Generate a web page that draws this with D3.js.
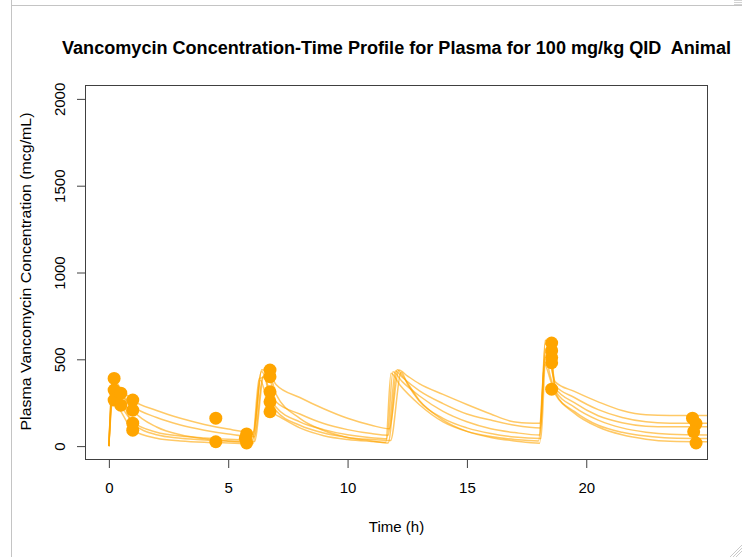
<!DOCTYPE html>
<html>
<head>
<meta charset="utf-8">
<script src="https://cdn.jsdelivr.net/npm/d3@7"></script>
<style>
  body { margin: 0; background: #fff; }
  svg { display: block; }
  text { font-family: "Liberation Sans", Arial, Helvetica, sans-serif; fill: #000; }
</style>
</head>
<body>
<svg id="chart" width="742" height="557"></svg>
<script>
// ---- Data: individual predicted profiles (time h, concentration mcg/mL) ----
const id1Time = [0, 0.17, 0.5, 1, 2, 3, 4, 5, 6.05, 6.4, 6.75, 7, 8, 9, 10, 11, 11.75, 12.15, 12.5, 13, 14, 15, 16, 16.8, 17.5, 18.05, 18.3, 18.5, 18.7, 19.5, 20.5, 21.5, 22.5, 23.5, 25.2];
const id1Conc = [0, 390, 330, 265, 205, 160, 125, 98, 80, 440, 415, 355, 280, 215, 160, 120, 100, 438, 405, 360, 298, 240, 185, 145, 133, 131, 540, 470, 370, 315, 255, 205, 180, 176, 176];

const id2Time = [0, 0.17, 0.5, 1, 2, 3, 4, 5, 6.1, 6.45, 6.75, 7, 8, 9, 10, 11, 11.7, 12.0, 12.3, 13, 14, 15, 16, 17, 18.08, 18.28, 18.5, 18.7, 19.5, 20.5, 21.5, 22.5, 23.5, 25.2];
const id2Conc = [0, 345, 300, 230, 165, 122, 92, 70, 54, 400, 380, 255, 185, 130, 95, 72, 63, 432, 395, 320, 245, 185, 150, 120, 104, 590, 540, 350, 280, 210, 165, 140, 132, 131];

const id3Time = [0, 0.17, 0.5, 1, 2, 3, 4, 5, 6.0, 6.4, 6.75, 7, 8, 9, 10, 11, 11.65, 11.9, 12.3, 13, 14, 15, 16, 17, 18.05, 18.3, 18.5, 18.7, 19.5, 20.5, 21.5, 22.5, 23.5, 25.2];
const id3Conc = [0, 323, 236, 140, 80, 58, 47, 40, 35, 430, 313, 225, 140, 95, 65, 48, 42, 428, 370, 290, 200, 140, 100, 78, 64, 560, 496, 335, 250, 175, 135, 115, 111, 111];

const id4Time = [0, 0.17, 0.5, 1, 2, 3, 4, 5, 6.1, 6.5, 6.75, 7, 8, 9, 10, 11, 11.8, 12.25, 12.5, 13, 14, 15, 16, 17, 18.1, 18.3, 18.5, 18.7, 19.5, 20.5, 21.5, 22.5, 23.5, 25.2];
const id4Conc = [0, 300, 270, 132, 65, 45, 35, 30, 27, 410, 255, 205, 120, 75, 50, 38, 32, 425, 360, 260, 160, 105, 72, 52, 44, 500, 400, 320, 225, 150, 105, 80, 68, 64];

const id5Time = [0, 0.17, 0.5, 1, 2, 3, 4, 5, 6.05, 6.35, 6.75, 7, 8, 9, 10, 11, 11.6, 11.82, 12.2, 13, 14, 15, 16, 17, 18.0, 18.25, 18.5, 18.7, 19.5, 20.5, 21.5, 22.5, 23.5, 25.2];
const id5Conc = [0, 265, 200, 92, 45, 30, 22, 18, 15, 380, 198, 180, 105, 60, 38, 27, 22, 420, 350, 240, 140, 85, 55, 38, 30, 470, 380, 300, 200, 120, 80, 58, 47, 44];

const id6Time = [0, 0.17, 0.5, 1, 2, 3, 4, 5, 6.0, 6.3, 6.75, 7, 8, 9, 10, 11, 11.7, 12.08, 12.35, 13, 14, 15, 16, 17, 18.05, 18.28, 18.5, 18.7, 19.5, 20.5, 21.5, 22.5, 23.5, 25.2];
const id6Conc = [0, 380, 305, 207, 110, 65, 42, 28, 20, 390, 400, 300, 160, 90, 50, 30, 18, 440, 395, 265, 150, 85, 50, 30, 17, 610, 594, 310, 190, 110, 65, 40, 28, 25];

// ---- Data: observed concentrations ----
const obsTime = [0.22, 0.22, 0.22, 0.5, 0.5, 1.0, 1.0, 1.0, 1.0, 4.48, 4.48, 5.72, 5.77, 5.77, 6.75, 6.75, 6.75, 6.75, 6.75, 18.55, 18.55, 18.55, 18.55, 18.55, 24.45, 24.6, 24.5, 24.6];
const obsConc = [390, 323, 265, 305, 236, 265, 207, 132, 92, 161, 25, 45, 70, 18, 438, 400, 313, 255, 198, 594, 550, 510, 480, 328, 161, 130, 83, 18];

// ---- Axis ticks and labels ----
const xTicks = [0, 5, 10, 15, 20];
const yTicks = [0, 500, 1000, 1500, 2000];
const titleText = "Vancomycin Concentration-Time Profile for Plasma for 100 mg/kg QID  Animal";
const xLabel = "Time (h)";
const yLabel = "Plasma Vancomycin Concentration (mcg/mL)";

const profiles = [
  [id1Time, id1Conc], [id2Time, id2Conc], [id3Time, id3Conc],
  [id4Time, id4Conc], [id5Time, id5Conc], [id6Time, id6Conc]
].map(([t, c]) => t.map((d, i) => [d, c[i]]));
const observed = obsTime.map((t, i) => [t, obsConc[i]]);

// ---- Layout ----
const svg = d3.select("#chart");
const plot = { left: 85, right: 708, top: 85, bottom: 460 };
const orange = "#FFA500";

const x = d3.scaleLinear().domain([-1.0, 25.1]).range([plot.left, plot.right]);
const y = d3.scaleLinear().domain([-80, 2080]).range([plot.bottom, plot.top]);

// viewer frame
svg.append("line").attr("x1", 11.5).attr("x2", 742).attr("y1", 5.5).attr("y2", 5.5)
  .attr("stroke", "#c4c4c4").attr("stroke-width", 1);
svg.append("line").attr("x1", 11.5).attr("x2", 11.5).attr("y1", 0).attr("y2", 557)
  .attr("stroke", "#c4c4c4").attr("stroke-width", 1);
// resize grips
[0, 3, 6].forEach(o => {
  svg.append("line").attr("x1", 730 + o).attr("y1", 557).attr("x2", 742).attr("y2", 545 + o)
    .attr("stroke", "#bdbdbd").attr("stroke-width", 0.8);
});
[0, 2, 4].forEach(o => {
  svg.append("line").attr("x1", 734).attr("x2", 742).attr("y1", o + 0.5).attr("y2", o + 0.5)
    .attr("stroke", "#c8c8c8").attr("stroke-width", 0.8);
});

svg.append("clipPath").attr("id", "plotClip")
  .append("rect").attr("x", plot.left).attr("y", plot.top)
  .attr("width", plot.right - plot.left).attr("height", plot.bottom - plot.top);

const g = svg.append("g").attr("clip-path", "url(#plotClip)");

// profile lines
const line = d3.line().x(d => x(d[0])).y(d => y(d[1])).curve(d3.curveMonotoneX);
g.selectAll("path.profile").data(profiles).join("path")
  .attr("class", "profile")
  .attr("d", line)
  .attr("fill", "none")
  .attr("stroke", orange)
  .attr("stroke-opacity", 0.6)
  .attr("stroke-width", 1.5);

// observed points
g.selectAll("circle.obs").data(observed).join("circle")
  .attr("class", "obs")
  .attr("cx", d => x(d[0]))
  .attr("cy", d => y(d[1]))
  .attr("r", 6.5)
  .attr("fill", orange);

// plot box
svg.append("rect").attr("x", plot.left + 0.5).attr("y", plot.top + 0.5)
  .attr("width", plot.right - plot.left - 1).attr("height", plot.bottom - plot.top - 1)
  .attr("fill", "none").attr("stroke", "#404040").attr("stroke-width", 1);

// x axis
const xAxis = svg.append("g").attr("transform", `translate(0,${plot.bottom})`)
  .call(d3.axisBottom(x).tickValues(xTicks).tickFormat(d3.format("d"))
    .tickSize(8).tickPadding(14).tickSizeOuter(0));
xAxis.select(".domain").remove();
xAxis.selectAll(".tick line").attr("stroke", "#404040");
xAxis.selectAll(".tick text").attr("font-size", 15).attr("fill", "#000")
  .attr("font-family", '"Liberation Sans", Arial, sans-serif');

// y axis with labels running along the axis
const yAxis = svg.append("g").attr("transform", `translate(${plot.left},0)`)
  .call(d3.axisLeft(y).tickValues(yTicks).tickFormat(d3.format("d"))
    .tickSize(8).tickSizeOuter(0));
yAxis.select(".domain").remove();
yAxis.selectAll(".tick line").attr("stroke", "#404040");
yAxis.selectAll(".tick text")
  .attr("font-size", 15).attr("fill", "#000")
  .attr("font-family", '"Liberation Sans", Arial, sans-serif')
  .attr("x", null).attr("dy", null)
  .attr("text-anchor", "middle")
  .attr("transform", "translate(-20,0) rotate(-90)");

// title (keeps the double space before "Animal")
svg.append("text").attr("x", (plot.left + plot.right) / 2).attr("y", 54)
  .attr("text-anchor", "middle").attr("font-size", 17.5).attr("font-weight", "bold")
  .attr("xml:space", "preserve").style("white-space", "pre")
  .attr("textLength", 669).attr("lengthAdjust", "spacingAndGlyphs")
  .text(titleText);

// axis titles
svg.append("text").attr("x", (plot.left + plot.right) / 2).attr("y", 532)
  .attr("text-anchor", "middle").attr("font-size", 15)
  .text(xLabel);

svg.append("text")
  .attr("transform", `translate(31,${(plot.top + plot.bottom) / 2 - 1}) rotate(-90)`)
  .attr("text-anchor", "middle").attr("font-size", 15)
  .attr("textLength", 318).attr("lengthAdjust", "spacingAndGlyphs")
  .text(yLabel);
</script>
</body>
</html>
